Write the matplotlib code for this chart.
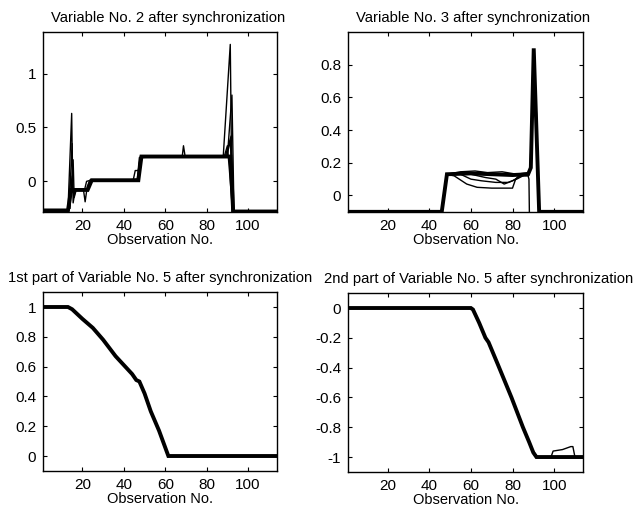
import matplotlib
matplotlib.use("Agg")
import matplotlib.pyplot as plt

plt.rcParams['font.family'] = ['Liberation Sans', 'DejaVu Sans']

# x range shared by all panels
x_lim = (1, 114)
x_ticks = [20, 40, 60, 80, 100]

# ---- Variable No. 2 ----
v2_main_x = [1, 13, 14.5, 16, 22.5, 24.5, 47, 48.5, 89, 91.5, 92.8, 114]
v2_main_y = [-0.27, -0.27, -0.08, -0.08, -0.08, 0.01, 0.01, 0.23, 0.23, 0.23, -0.28, -0.28]
v2_extra = [
    ([13, 14.8, 15.3, 16], [-0.27, 0.63, -0.1, -0.08]),
    ([13.5, 15, 15.5, 16.5], [-0.27, 0.35, -0.2, -0.08]),
    ([14, 15.5, 16, 17], [-0.25, 0.2, -0.15, -0.08]),
    ([13.2, 14.3, 15.8, 16.5], [-0.27, 0.05, -0.12, -0.08]),
    ([16, 20.5, 21.3, 22.3, 23.5, 30], [-0.08, -0.08, -0.19, -0.05, 0.01, 0.01]),
    ([19, 21, 22, 24, 30], [-0.08, -0.08, 0.0, 0.01, 0.01]),
    ([25, 44.5, 45.5, 47, 48], [0.01, 0.01, 0.1, 0.1, 0.23]),
    ([40, 46.5, 47.5, 60], [0.01, 0.02, 0.22, 0.23]),
    ([66, 68.2, 68.8, 69.6, 72], [0.23, 0.23, 0.33, 0.23, 0.23]),
    ([88, 91.4, 92, 93], [0.23, 1.27, 0.2, -0.28]),
    ([89, 91.8, 92.5, 93], [0.23, 0.42, 0.0, -0.28]),
    ([88.5, 90, 91, 92.5], [0.23, 0.33, 0.1, -0.28]),
    ([90, 92.2, 93.2], [0.23, 0.8, -0.28]),
    ([89.5, 90.5, 91.5, 92.3], [0.23, 0.3, 0.38, -0.28]),
]

# ---- Variable No. 3 ----
v3_main_x = [1, 46, 48.5, 60, 70, 80, 87.5, 88.8, 90.2, 92.8, 114]
v3_main_y = [-0.1, -0.1, 0.13, 0.135, 0.13, 0.125, 0.13, 0.17, 0.9, -0.1, -0.1]
v3_extra = [
    ([48.5, 55, 62, 68, 75, 82, 87.5], [0.13, 0.145, 0.15, 0.14, 0.145, 0.13, 0.14]),
    ([48, 52, 58, 63, 70, 80, 81.5, 83], [0.13, 0.12, 0.07, 0.05, 0.045, 0.045, 0.1, 0.12]),
    ([55, 60, 65, 72, 78, 82, 85], [0.13, 0.1, 0.09, 0.08, 0.08, 0.1, 0.12]),
    ([60, 67, 72, 76, 80, 84], [0.13, 0.11, 0.1, 0.07, 0.09, 0.12]),
    ([85, 87.5, 87.9, 88.1], [0.12, 0.12, 0.1, -0.1]),
    ([88.5, 90, 91.5, 92.6], [0.15, 0.88, 0.5, -0.1]),
]

# ---- Variable No. 5, 1st part ----
v5a_x = [1, 13, 15, 20, 25, 30, 36, 40, 44, 46, 47.5, 50, 53, 57, 61.5, 114]
v5a_y = [1, 1, 0.985, 0.92, 0.86, 0.78, 0.67, 0.61, 0.55, 0.51, 0.5, 0.42, 0.3, 0.17, 0, 0]

# ---- Variable No. 5, 2nd part ----
v5b_x = [1, 60, 61, 64, 67, 68.5, 73, 79.5, 85, 88, 90, 91.5, 114]
v5b_y = [0, 0, -0.01, -0.1, -0.2, -0.23, -0.38, -0.6, -0.8, -0.9, -0.97, -1, -1]
v5b_extra = [
    ([86, 88.5, 89.5, 92], [-0.83, -0.92, -0.95, -1]),
    ([98.5, 99.5, 104, 108, 109, 110], [-1, -0.96, -0.95, -0.93, -0.93, -1]),
]

panels = [
    dict(rect=[0.068, 0.583, 0.369, 0.354], title="Variable No. 2 after synchronization",
         tx=0.535, main=(v2_main_x, v2_main_y), extra=v2_extra, ylim=(-0.283, 1.385),
         yticks=[0, 0.5, 1], ylabels=["0", "0.5", "1"]),
    dict(rect=[0.549, 0.583, 0.371, 0.354], title="Variable No. 3 after synchronization",
         tx=0.53, main=(v3_main_x, v3_main_y), extra=v3_extra, ylim=(-0.1, 1.0),
         yticks=[0, 0.2, 0.4, 0.6, 0.8], ylabels=["0", "0.2", "0.4", "0.6", "0.8"]),
    dict(rect=[0.068, 0.073, 0.369, 0.352], title="1st part of Variable No. 5 after synchronization",
         tx=0.5, main=(v5a_x, v5a_y), extra=[], ylim=(-0.1, 1.1),
         yticks=[0, 0.2, 0.4, 0.6, 0.8, 1], ylabels=["0", "0.2", "0.4", "0.6", "0.8", "1"]),
    dict(rect=[0.549, 0.071, 0.371, 0.352], title="2nd part of Variable No. 5 after synchronization",
         tx=0.555, main=(v5b_x, v5b_y), extra=v5b_extra, ylim=(-1.1, 0.1),
         yticks=[-1, -0.8, -0.6, -0.4, -0.2, 0], ylabels=["-1", "-0.8", "-0.6", "-0.4", "-0.2", "0"]),
]

fig = plt.figure(figsize=(6.34, 5.08), dpi=100)

for p in panels:
    ax = fig.add_axes(p["rect"])
    ax.plot(p["main"][0], p["main"][1], color="black", linewidth=2.8, solid_joinstyle="miter")
    for xs, ys in p["extra"]:
        ax.plot(xs, ys, color="black", linewidth=1.0)
    ax.set_xlim(*x_lim)
    ax.set_ylim(*p["ylim"])
    ax.set_xticks(x_ticks)
    ax.set_yticks(p["yticks"])
    ax.set_yticklabels(p["ylabels"])
    ax.tick_params(direction="in", length=3, width=0.8, top=True, right=True, labelsize=11, pad=5)
    for s in ax.spines.values():
        s.set_linewidth(1.0)
    ax.set_title(p["title"], fontsize=10.6, pad=7, x=p["tx"])
    ax.set_xlabel("Observation No.", fontsize=10.5, labelpad=0)

fig.savefig("out.png", dpi=100)
